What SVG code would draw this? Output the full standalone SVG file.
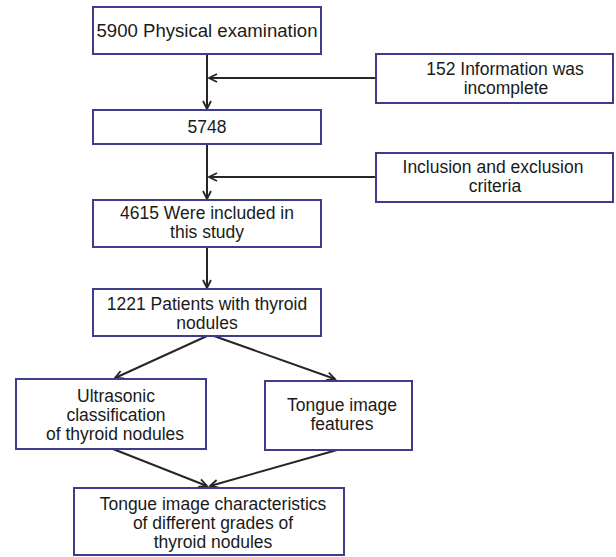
<svg xmlns="http://www.w3.org/2000/svg" width="616" height="557" viewBox="0 0 616 557">
<style>
.box{fill:#fff;stroke:#3d3d8c;stroke-width:2}
.t{font-family:"Liberation Sans",Arial,Helvetica,sans-serif;font-size:17.5px;fill:#1a1a1a;text-anchor:middle}
.c{fill:none;stroke:#262626;stroke-width:2}
</style>
<defs>
<marker id="ah" markerUnits="userSpaceOnUse" markerWidth="14" markerHeight="14" refX="9" refY="5" orient="auto">
<path d="M1,1 L9,5 L1,9" fill="none" stroke="#262626" stroke-width="1.8"/>
</marker>
</defs>
<rect width="616" height="557" fill="#fff"/>
<g id="connectors">
<line class="c" x1="207" y1="54" x2="207" y2="109" marker-end="url(#ah)"/>
<line class="c" x1="376" y1="78" x2="209" y2="78" marker-end="url(#ah)"/>
<line class="c" x1="207" y1="144" x2="207" y2="199" marker-end="url(#ah)"/>
<line class="c" x1="376" y1="177" x2="209" y2="177" marker-end="url(#ah)"/>
<line class="c" x1="207" y1="247" x2="207" y2="288" marker-end="url(#ah)"/>
<line class="c" x1="207" y1="336" x2="115" y2="378" marker-end="url(#ah)"/>
<line class="c" x1="214" y1="336" x2="335" y2="379" marker-end="url(#ah)"/>
<line class="c" x1="113" y1="449" x2="207" y2="486" marker-end="url(#ah)"/>
<line class="c" x1="337" y1="450" x2="210" y2="486" marker-end="url(#ah)"/>
</g>
<g id="n5900">
<rect class="box" x="93" y="7" width="228" height="47"/>
<text class="t" x="207" y="37" textLength="221" lengthAdjust="spacingAndGlyphs">5900 Physical examination</text>
</g>
<g id="n152">
<rect class="box" x="376" y="54" width="237" height="49"/>
<text class="t" x="505" y="75">152 Information was</text>
<text class="t" x="506" y="94">incomplete</text>
</g>
<g id="n5748">
<rect class="box" x="93" y="110" width="228" height="34"/>
<text class="t" x="207" y="133">5748</text>
</g>
<g id="nincl">
<rect class="box" x="376" y="153" width="237" height="49"/>
<text class="t" x="493" y="173">Inclusion and exclusion</text>
<text class="t" x="495" y="192">criteria</text>
</g>
<g id="n4615">
<rect class="box" x="93" y="200" width="228" height="47"/>
<text class="t" x="207" y="219">4615 Were included in</text>
<text class="t" x="207" y="238">this study</text>
</g>
<g id="n1221">
<rect class="box" x="93" y="289" width="228" height="47"/>
<text class="t" x="207" y="310">1221 Patients with thyroid</text>
<text class="t" x="207" y="329">nodules</text>
</g>
<g id="nultra">
<rect class="box" x="16" y="379" width="190" height="70"/>
<text class="t" x="116" y="402">Ultrasonic</text>
<text class="t" x="116" y="421">classification</text>
<text class="t" x="115" y="440">of thyroid nodules</text>
</g>
<g id="ntongue">
<rect class="box" x="265" y="381" width="147" height="69"/>
<text class="t" x="342" y="411">Tongue image</text>
<text class="t" x="342" y="430">features</text>
</g>
<g id="nfinal">
<rect class="box" x="74" y="488" width="270" height="67"/>
<text class="t" x="213" y="510">Tongue image characteristics</text>
<text class="t" x="213" y="529">of different grades of</text>
<text class="t" x="213" y="548">thyroid nodules</text>
</g>
</svg>
